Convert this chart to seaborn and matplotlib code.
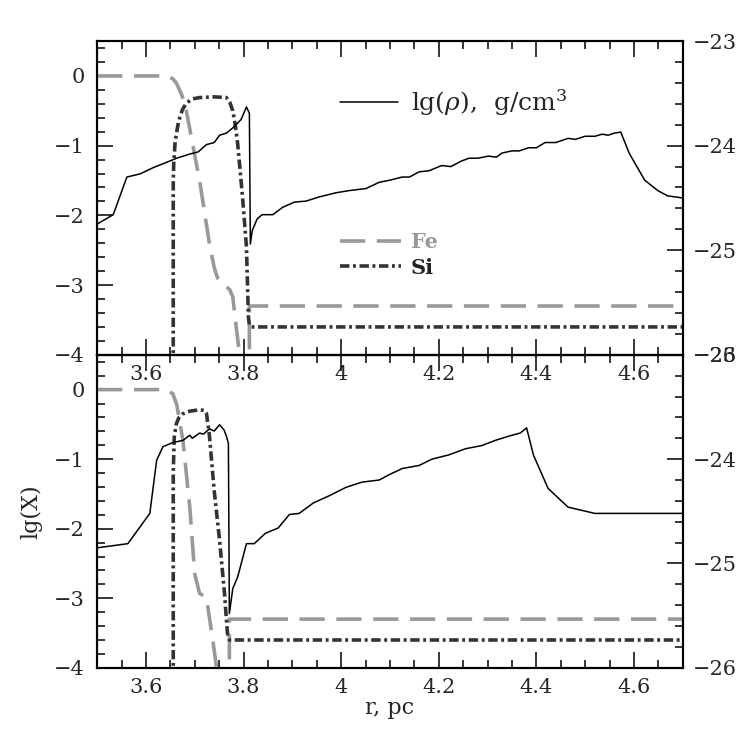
import numpy as np
import pandas as pd
import matplotlib
matplotlib.use("Agg")
import matplotlib.pyplot as plt
from matplotlib.ticker import MultipleLocator
import seaborn as sns

# ---- data ----
# upper panel: density (right axis)
r_rho_top = [3.50, 3.533, 3.561, 3.588, 3.615, 3.642, 3.663, 3.69, 3.707, 3.724, 3.74, 3.751,
             3.765, 3.778, 3.795, 3.806, 3.812, 3.814, 3.818, 3.828, 3.838, 3.86, 3.88, 3.904,
             3.928, 3.955, 3.99, 4.016, 4.051, 4.078, 4.10, 4.125, 4.14, 4.16, 4.18, 4.206,
             4.225, 4.245, 4.262, 4.28, 4.302, 4.318, 4.33, 4.35, 4.365, 4.384, 4.40, 4.418,
             4.44, 4.465, 4.48, 4.50, 4.52, 4.535, 4.547, 4.56, 4.573, 4.59, 4.622, 4.649,
             4.669, 4.70]
rho_top = [-24.75, -24.66, -24.30, -24.27, -24.21, -24.16, -24.12, -24.08, -24.06, -23.99, -23.97, -23.90,
           -23.88, -23.83, -23.75, -23.63, -23.69, -24.94, -24.81, -24.70, -24.66, -24.66, -24.59, -24.54,
           -24.53, -24.49, -24.45, -24.43, -24.41, -24.35, -24.33, -24.30, -24.30, -24.25, -24.24, -24.19,
           -24.20, -24.15, -24.12, -24.12, -24.10, -24.11, -24.07, -24.05, -24.05, -24.02, -24.02, -23.97,
           -23.97, -23.93, -23.94, -23.91, -23.91, -23.89, -23.90, -23.88, -23.87, -24.07, -24.33, -24.43,
           -24.48, -24.50]

# upper panel: abundances (left axis)
r_fe_top = [3.50, 3.643, 3.655, 3.663, 3.672, 3.68, 3.695, 3.71, 3.73, 3.74, 3.747, 3.757, 3.765,
            3.772, 3.778, 3.785, 3.792, 3.80, 3.812, 3.812, 4.70]
fe_top = [0.0, 0.0, -0.04, -0.11, -0.25, -0.40, -0.95, -1.50, -2.40, -2.75, -2.90, -2.98, -3.02,
          -3.07, -3.17, -3.60, -4.00, -5.00, -5.00, -3.30, -3.30]
r_si_top = [3.656, 3.656, 3.657, 3.66, 3.667, 3.675, 3.683, 3.695, 3.71, 3.74, 3.765, 3.772, 3.778,
            3.783, 3.788, 3.798, 3.806, 3.81, 3.812, 3.815, 4.70]
si_top = [-5.0, -1.50, -1.26, -0.93, -0.65, -0.48, -0.39, -0.33, -0.31, -0.30, -0.31, -0.38, -0.50,
          -0.70, -0.97, -1.74, -2.45, -3.46, -3.57, -3.60, -3.60]

# lower panel: density (right axis)
r_rho_bot = [3.50, 3.563, 3.608, 3.622, 3.635, 3.656, 3.676, 3.69, 3.695, 3.71, 3.718, 3.73, 3.74,
             3.751, 3.76, 3.765, 3.769, 3.771, 3.778, 3.788, 3.806, 3.822, 3.845, 3.871, 3.894,
             3.914, 3.943, 3.976, 4.01, 4.043, 4.078, 4.098, 4.125, 4.16, 4.186, 4.22, 4.255,
             4.288, 4.316, 4.343, 4.367, 4.38, 4.394, 4.424, 4.465, 4.52, 4.567, 4.70]
rho_bot = [-24.85, -24.81, -24.52, -24.01, -23.88, -23.84, -23.82, -23.77, -23.80, -23.75, -23.76, -23.71, -23.73,
           -23.67, -23.72, -23.78, -23.85, -25.48, -25.24, -25.13, -24.81, -24.81, -24.71, -24.66, -24.53,
           -24.52, -24.42, -24.35, -24.27, -24.22, -24.20, -24.15, -24.09, -24.06, -24.00, -23.96, -23.90,
           -23.87, -23.82, -23.78, -23.75, -23.70, -23.96, -24.28, -24.46, -24.52, -24.52, -24.52]

# lower panel: abundances (left axis)
r_fe_bot = [3.50, 3.643, 3.655, 3.663, 3.676, 3.69, 3.70, 3.71, 3.724, 3.737, 3.744, 3.75, 3.771,
            3.771, 4.70]
fe_bot = [0.0, 0.0, -0.06, -0.21, -0.74, -1.70, -2.65, -2.93, -2.99, -3.60, -3.96, -5.0, -5.0,
          -3.30, -3.30]
r_si_bot = [3.656, 3.656, 3.658, 3.662, 3.667, 3.675, 3.69, 3.71, 3.72, 3.724, 3.73, 3.74, 3.751,
            3.761, 3.767, 3.771, 3.775, 4.70]
si_bot = [-5.0, -1.20, -0.69, -0.50, -0.41, -0.35, -0.31, -0.29, -0.30, -0.34, -0.65, -1.46, -2.17,
          -2.93, -3.50, -3.60, -3.60, -3.60]

x_ticks = [3.6, 3.8, 4.0, 4.2, 4.4, 4.6]
x_labels = ["3.6", "3.8", "4", "4.2", "4.4", "4.6"]
left_ticks = [-4, -3, -2, -1, 0]
right_ticks = [-26, -25, -24, -23]

panels = [
    (r_rho_top, rho_top, r_fe_top, fe_top, r_si_top, si_top),
    (r_rho_bot, rho_bot, r_fe_bot, fe_bot, r_si_bot, si_bot),
]

sns.set_style("ticks")
plt.rcParams["font.family"] = ["DejaVu Serif"]
plt.rcParams["mathtext.fontset"] = "dejavuserif"
plt.rcParams["font.size"] = 15

fe_color = "#999999"
si_color = "#333333"

fig = plt.figure(figsize=(7.47, 7.47), dpi=100)
axes_boxes = [[0.130, 0.525, 0.784, 0.420], [0.130, 0.106, 0.784, 0.419]]


def style_axis(a):
    a.tick_params(which="both", direction="in", width=1.1, labelsize=15, color="black")
    a.tick_params(which="major", length=11.5)
    a.tick_params(which="minor", length=5.5)
    for sp in a.spines.values():
        sp.set_linewidth(1.5)
        sp.set_color("black")


def minus(v):
    return str(v).replace("-", "\u2212")


for i, (rr, rho, rfe, fe, rsi, si) in enumerate(panels):
    ax = fig.add_axes(axes_boxes[i])
    ax.patch.set_visible(False)
    d_fe = pd.DataFrame({"r": rfe, "lgX": fe})
    d_si = pd.DataFrame({"r": rsi, "lgX": si})
    sns.lineplot(data=d_fe, x="r", y="lgX", ax=ax, estimator=None, sort=False,
                 color=fe_color, linewidth=2.6, linestyle=(0, (7, 3.2)))
    sns.lineplot(data=d_si, x="r", y="lgX", ax=ax, estimator=None, sort=False,
                 color=si_color, linewidth=2.6, linestyle=(0, (2.6, 1.0, 0.8, 1.0)))
    fe_line, si_line = ax.get_lines()[0], ax.get_lines()[1]
    ax.set_xlim(3.5, 4.7)
    ax.set_ylim(-4, 0.5)
    ax.xaxis.set_minor_locator(MultipleLocator(0.05))
    ax.yaxis.set_minor_locator(MultipleLocator(0.2))
    ax.set_xticks(x_ticks)
    ax.set_xticklabels(x_labels)
    ax.set_yticks(left_ticks)
    ax.set_yticklabels([minus(v) for v in left_ticks])
    style_axis(ax)
    ax.tick_params(which="both", top=True, right=False, bottom=True)
    ax.tick_params(axis="x", pad=7)
    ax.tick_params(axis="y", pad=9)
    ax.set_xlabel("")
    ax.set_ylabel("")

    ax2 = ax.twinx()
    ax2.set_position(axes_boxes[i])
    d_rho = pd.DataFrame({"r": rr, "lgrho": rho})
    sns.lineplot(data=d_rho, x="r", y="lgrho", ax=ax2, estimator=None, sort=False,
                 color="black", linewidth=1.1)
    rho_line = ax2.get_lines()[0]
    ax2.set_xlim(3.5, 4.7)
    ax2.set_ylim(-26, -23)
    ax2.set_yticks(right_ticks)
    ax2.set_yticklabels([minus(v) for v in right_ticks])
    ax2.yaxis.set_minor_locator(MultipleLocator(0.2))
    style_axis(ax2)
    ax2.tick_params(axis="y", pad=7)
    ax2.set_ylabel("")

    if i == 0:
        leg1 = ax2.legend([rho_line], ["lg($\\rho$),  g/cm$^3$"], loc="center left",
                          bbox_to_anchor=(0.415, 0.803), frameon=False, borderpad=0,
                          borderaxespad=0, handlelength=2.3, handletextpad=0.55,
                          fontsize=18)
        leg2 = ax2.legend([fe_line, si_line], ["Fe", "Si"], loc="center left",
                          bbox_to_anchor=(0.415, 0.318), frameon=False, borderpad=0,
                          borderaxespad=0, handlelength=2.9, handletextpad=0.5,
                          labelspacing=0.25, prop={"weight": "bold", "size": 15})
        for t, c in zip(leg2.get_texts(), [fe_color, "#222222"]):
            t.set_color(c)
        ax2.add_artist(leg1)
    else:
        ax.set_xlabel("r, pc", fontsize=16, labelpad=0)
        ax.set_ylabel("lg(X)", fontsize=16, labelpad=8)

fig.savefig("out.png", dpi=100)
